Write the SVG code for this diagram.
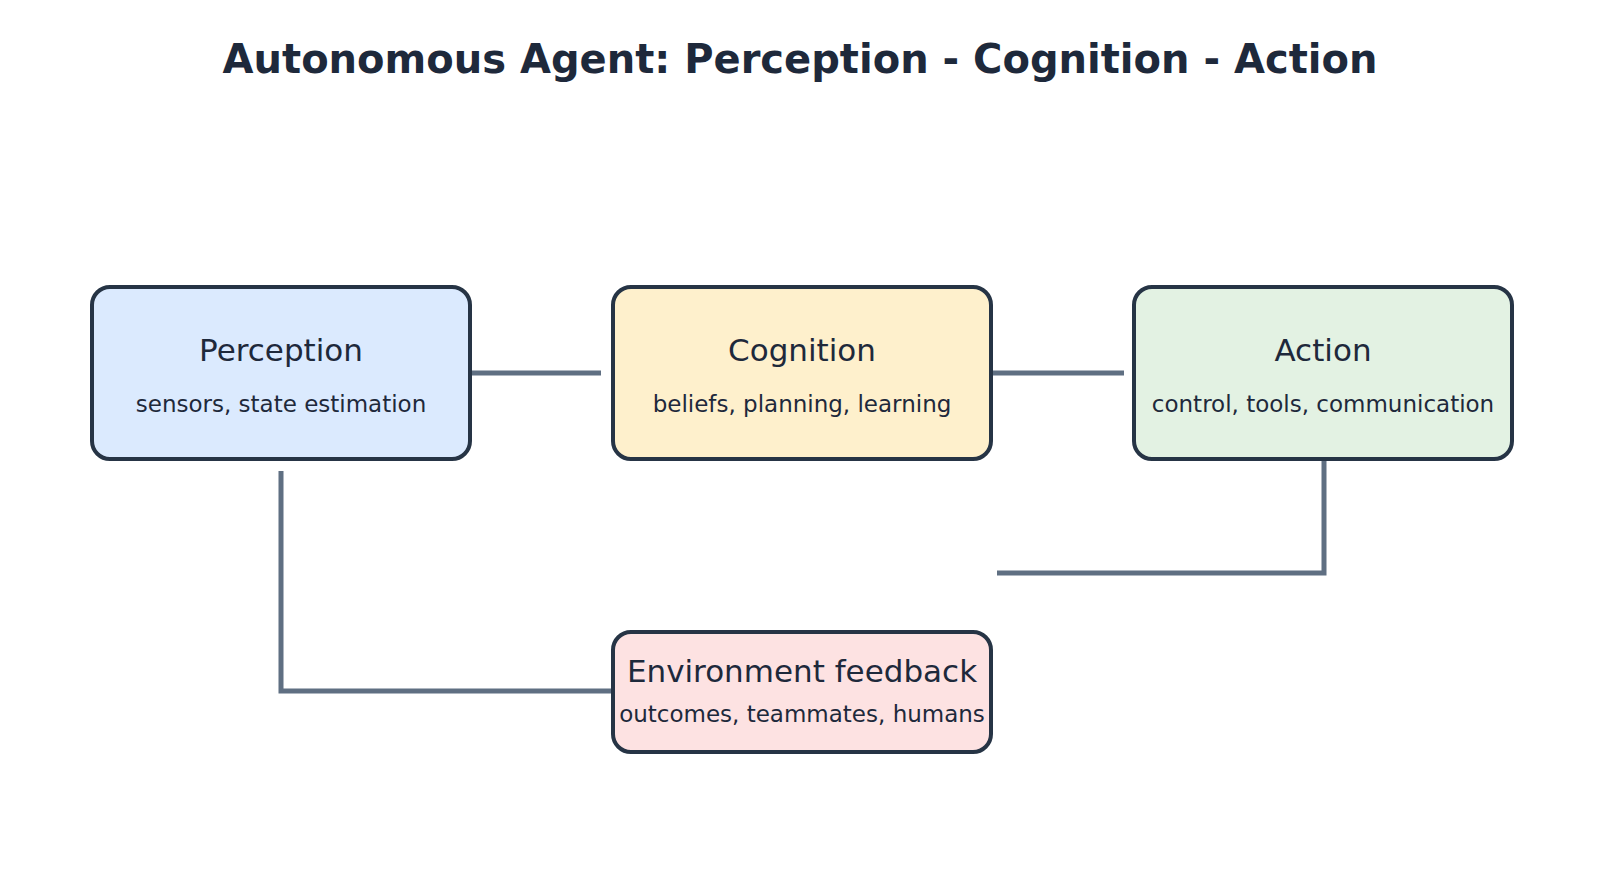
<svg xmlns="http://www.w3.org/2000/svg" width="1600" height="869" viewBox="0 0 1600 869">
<style>
.n{stroke:#263445;stroke-width:4}
.t{font-family:"DejaVu Sans",sans-serif;fill:#1e293b;text-anchor:middle}
.l{font-size:31px}
.s{font-size:23px}
.c{fill:none;stroke:#5f6f82;stroke-width:5}
</style>
<rect width="1600" height="869" fill="#fff"/>
<text class="t" x="800" y="73" font-size="40" font-weight="bold">Autonomous Agent: Perception - Cognition - Action</text>
<g id="connectors">
<path class="c" d="M460 373H601"/>
<path class="c" d="M991 373H1124"/>
<path class="c" d="M1324 460V573H997"/>
<path class="c" d="M281 471V691H613"/>
</g>
<g id="perception"><rect class="n" x="92" y="287" width="378" height="172" rx="18" fill="#dbeafe"/><text class="t l" x="281" y="361">Perception</text><text class="t s" x="281" y="412">sensors, state estimation</text></g>
<g id="cognition"><rect class="n" x="613" y="287" width="378" height="172" rx="18" fill="#fef0cc"/><text class="t l" x="802" y="361">Cognition</text><text class="t s" x="802" y="412">beliefs, planning, learning</text></g>
<g id="action"><rect class="n" x="1134" y="287" width="378" height="172" rx="18" fill="#e3f2e3"/><text class="t l" x="1323" y="361">Action</text><text class="t s" x="1323" y="412">control, tools, communication</text></g>
<g id="environment"><rect class="n" x="613" y="632" width="378" height="120" rx="18" fill="#fde2e2"/><text class="t l" x="802" y="682">Environment feedback</text><text class="t s" x="802" y="722">outcomes, teammates, humans</text></g>
</svg>
